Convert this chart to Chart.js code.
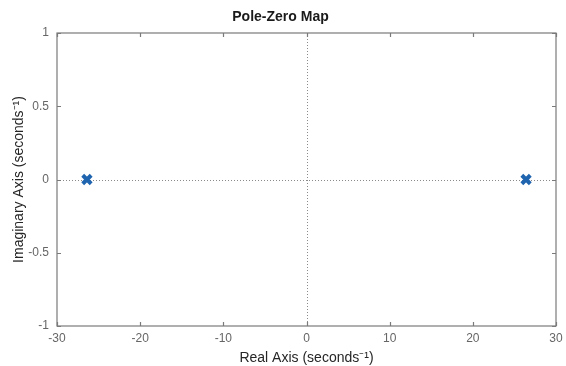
<!DOCTYPE html>
<html>
<head>
<meta charset="utf-8">
<script src="https://cdn.jsdelivr.net/npm/chart.js@4"></script>
<style>
  html, body { margin: 0; padding: 0; background: #fff; }
  #wrap { width: 566px; height: 366px; }
</style>
</head>
<body>
<div id="wrap"><canvas id="pzmap"></canvas></div>
<script>
// Pole locations (real / imaginary parts)
const poleReal = [-26.4, 26.4];
const poleImag = [0, 0];

// Axis ticks
const xTicks = [-30, -20, -10, 0, 10, 20, 30];
const yTicks = [-1, -0.5, 0, 0.5, 1];

const FONT = "'Liberation Sans', Arial, Helvetica, sans-serif";

// Box around the plot, inward tick marks on every side, dotted zero lines
const framePlugin = {
  id: "frame",
  beforeDatasetsDraw(chart) {
    const { ctx, chartArea: a, scales } = chart;
    const x0 = scales.x.getPixelForValue(0);
    const y0 = scales.y.getPixelForValue(0);
    ctx.save();
    ctx.strokeStyle = "#8a8a8a";
    ctx.lineWidth = 1;
    ctx.setLineDash([1, 2]);
    ctx.beginPath();
    ctx.moveTo(Math.round(x0) + 0.5, a.top);
    ctx.lineTo(Math.round(x0) + 0.5, a.bottom);
    ctx.moveTo(a.left, Math.round(y0) + 0.5);
    ctx.lineTo(a.right, Math.round(y0) + 0.5);
    ctx.stroke();
    ctx.restore();
  },
  afterDraw(chart) {
    const { ctx, chartArea: a, scales } = chart;
    const tl = 4;
    ctx.save();
    ctx.strokeStyle = "#7a7a7a";
    ctx.lineWidth = 1.2;
    ctx.strokeRect(a.left, a.top, a.right - a.left, a.bottom - a.top);
    ctx.beginPath();
    xTicks.forEach(v => {
      const px = Math.round(scales.x.getPixelForValue(v)) + 0.5;
      ctx.moveTo(px, a.bottom); ctx.lineTo(px, a.bottom - tl);
      ctx.moveTo(px, a.top); ctx.lineTo(px, a.top + tl);
    });
    yTicks.forEach(v => {
      const py = Math.round(scales.y.getPixelForValue(v)) + 0.5;
      ctx.moveTo(a.left, py); ctx.lineTo(a.left + tl, py);
      ctx.moveTo(a.right, py); ctx.lineTo(a.right - tl, py);
    });
    ctx.stroke();
    ctx.restore();
  }
};

const data = {
  datasets: [{
    label: "Poles",
    data: poleReal.map((re, i) => ({ x: re, y: poleImag[i] })),
    pointStyle: "crossRot",
    pointRadius: 6,
    pointHoverRadius: 6,
    borderWidth: 4,
    borderColor: "#1f64ae",
    backgroundColor: "#1f64ae",
    showLine: false
  }]
};

const config = {
  type: "scatter",
  data: data,
  plugins: [framePlugin],
  options: {
    responsive: true,
    maintainAspectRatio: false,
    animation: false,
    layout: { padding: { left: 0, right: 5, top: 0, bottom: 0 } },
    plugins: {
      legend: { display: false },
      tooltip: { enabled: false },
      title: {
        display: true,
        text: "Pole-Zero Map",
        color: "#1a1a1a",
        font: { family: FONT, size: 14, weight: "bold" },
        padding: { top: 8.6, bottom: 7.6 }
      }
    },
    scales: {
      x: {
        type: "linear",
        min: -30,
        max: 30,
        afterBuildTicks: s => { s.ticks = xTicks.map(v => ({ value: v })); },
        afterFit: s => {
          s.height = 40;
          s.paddingLeft = 0;
          s.paddingRight = 0;
        },
        grid: { display: false, drawTicks: false },
        border: { display: false },
        ticks: {
          padding: 5,
          color: "#666",
          font: { family: FONT, size: 12 },
          maxRotation: 0,
          callback: v => String(v)
        },
        title: {
          display: true,
          text: "Real Axis (seconds⁻¹)",
          color: "#262626",
          font: { family: FONT, size: 14, lineHeight: 1 },
          padding: { top: 0, bottom: 0.5 }
        }
      },
      y: {
        type: "linear",
        min: -1,
        max: 1,
        afterBuildTicks: s => { s.ticks = yTicks.map(v => ({ value: v })); },
        afterFit: s => { s.width = 57; },
        grid: { display: false, drawTicks: false },
        border: { display: false },
        ticks: {
          padding: 8,
          color: "#666",
          font: { family: FONT, size: 12 },
          callback: v => String(v)
        },
        title: {
          display: true,
          text: "Imaginary Axis (seconds⁻¹)",
          color: "#262626",
          font: { family: FONT, size: 14, lineHeight: 1 },
          padding: { top: 12, bottom: 0 }
        }
      }
    }
  }
};

new Chart(document.getElementById("pzmap"), config);
</script>
</body>
</html>
